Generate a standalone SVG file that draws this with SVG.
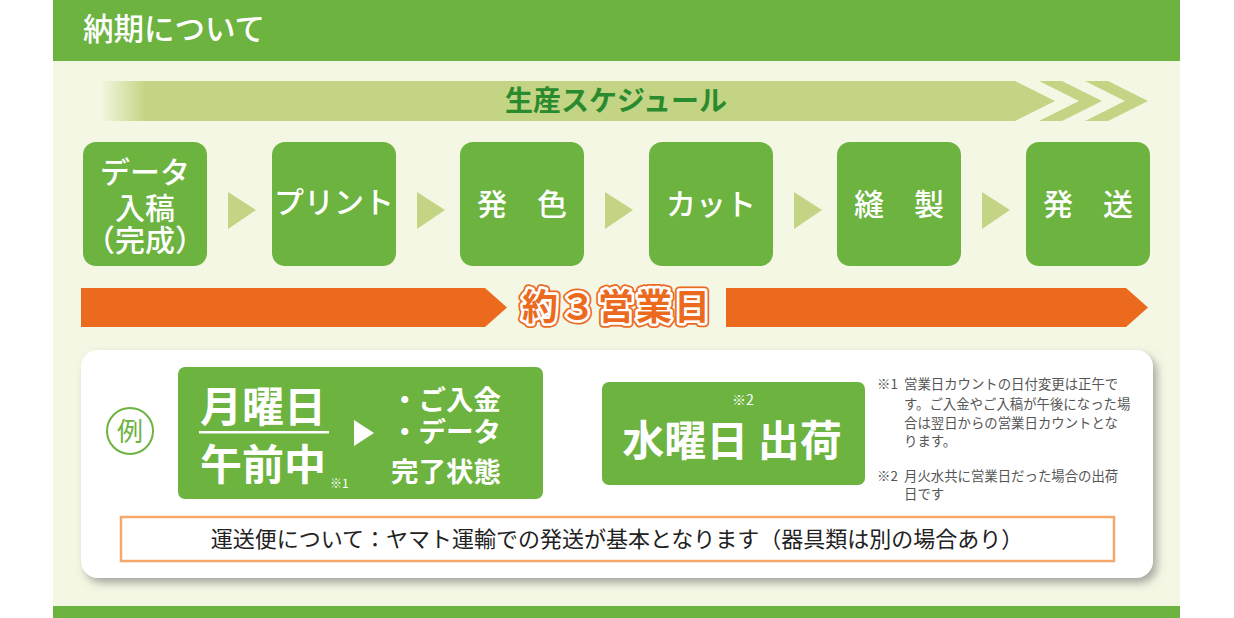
<svg xmlns="http://www.w3.org/2000/svg" width="1234" height="618" viewBox="0 0 1234 618">
<defs>
<style>
.jp{font-family:"Noto Sans CJK JP","Noto Sans",sans-serif}
.box{fill:#6cb33f}
.bt{fill:#fff;font-size:30px;text-anchor:middle;font-weight:500}
.tri{fill:#c3d584}
.note{fill:#555;font-size:13.4px}
</style>
<linearGradient id="fade" x1="100" y1="0" x2="145" y2="0" gradientUnits="userSpaceOnUse">
<stop offset="0" stop-color="#c3d584" stop-opacity="0"/>
<stop offset="1" stop-color="#c3d584"/>
</linearGradient>
<filter id="sh" x="-5%" y="-10%" width="112%" height="125%">
<feDropShadow dx="4" dy="5" stdDeviation="4" flood-color="#666" flood-opacity="0.55"/>
</filter>
</defs>
<rect x="0" y="0" width="1234" height="618" fill="#fff"/>
<rect x="53" y="61" width="1127" height="545" fill="#f4f7e3"/>
<g id="header">
<rect x="53" y="0" width="1127" height="61" fill="#6cb33f"/>
<text class="jp" x="83" y="40" font-size="30.5" font-weight="500" fill="#fff">納期について</text>
</g>
<rect x="53" y="606" width="1127" height="12" fill="#6cb33f"/>

<g id="schedule">
<path d="M100 81H1015L1055 101L1015 121H100Z" fill="url(#fade)"/>
<path d="M1039 81H1062L1102 101L1062 121H1039L1079 101Z" fill="#c3d584"/>
<path d="M1085 81H1108L1148 101L1108 121H1085L1125 101Z" fill="#c3d584"/>
<text class="jp" x="616" y="111" font-size="28" font-weight="bold" fill="#2a8a2e" text-anchor="middle">生産スケジュール</text>
</g>

<g id="step1"><rect class="box" x="83" y="142" width="124" height="124" rx="13"/>
<text class="jp bt" x="145" y="183" font-size="29">データ</text>
<text class="jp bt" x="145" y="219" font-size="29">入稿</text>
<text class="jp bt" x="145" y="251" font-size="25">（完成）</text></g>
<g id="step2"><rect class="box" x="272" y="142" width="124" height="124" rx="13"/>
<text class="jp bt" x="334" y="213">プリント</text></g>
<g id="step3"><rect class="box" x="460" y="142" width="124" height="124" rx="13"/>
<text class="jp bt" x="522" y="215">発　色</text></g>
<g id="step4"><rect class="box" x="649" y="142" width="124" height="124" rx="13"/>
<text class="jp bt" x="711" y="215">カット</text></g>
<g id="step5"><rect class="box" x="837" y="142" width="124" height="124" rx="13"/>
<text class="jp bt" x="899" y="215">縫　製</text></g>
<g id="step6"><rect class="box" x="1026" y="142" width="124" height="124" rx="13"/>
<text class="jp bt" x="1088" y="215">発　送</text></g>

<g id="connectors">
<path class="tri" d="M228 192L256 210L228 229Z"/>
<path class="tri" d="M417 192L445 210L417 229Z"/>
<path class="tri" d="M605 192L633 210L605 229Z"/>
<path class="tri" d="M794 192L822 210L794 229Z"/>
<path class="tri" d="M982 192L1010 210L982 229Z"/>
<path class="tri" d="M562 416L591 433L562 450Z"/>
</g>

<g id="days">
<path d="M81 288H485L507 307.5L485 327H81Z" fill="#ec6a1e"/>
<path d="M726 288H1126L1148 307.5L1126 327H726Z" fill="#ec6a1e"/>
<g class="jp" font-size="36" font-weight="bold" text-anchor="middle" letter-spacing="2">
<text x="617" y="320" fill="#ec6a1e" stroke="#ec6a1e" stroke-width="9" stroke-linejoin="round">約３営業日</text>
<text x="617" y="320" fill="#fff" stroke="#fff" stroke-width="5.5" stroke-linejoin="round">約３営業日</text>
<text x="617" y="320" fill="#ec6a1e">約３営業日</text>
</g>
</g>

<g id="card">
<rect x="81" y="350" width="1072" height="228" rx="17" fill="#fff" filter="url(#sh)"/>
</g>
<g id="rei">
<circle cx="130" cy="431" r="23" fill="none" stroke="#6cb33f" stroke-width="2"/>
<text class="jp" x="130" y="441" font-size="26" fill="#6cb33f" text-anchor="middle">例</text>
</g>
<g id="exampleA">
<rect class="box" x="178" y="367" width="365" height="132" rx="7"/>
<text class="jp" x="263" y="422" font-size="42" font-weight="bold" fill="#fff" text-anchor="middle">月曜日</text>
<rect x="199" y="431" width="130" height="2.5" fill="#fff"/>
<text class="jp" x="263" y="480" font-size="42" font-weight="bold" fill="#fff" text-anchor="middle">午前中</text>
<text class="jp" x="330" y="488" font-size="12" fill="#fff">※1</text>
<path d="M354 420L374 433L354 446Z" fill="#fff"/>
<g class="jp" font-size="27.5" font-weight="bold" fill="#fff">
<text x="391" y="410">・ご入金</text>
<text x="391" y="442">・データ</text>
<text x="391" y="482">完了状態</text>
</g>
</g>
<g id="exampleB">
<rect class="box" x="602" y="382" width="263" height="103" rx="7"/>
<text class="jp" x="743" y="405" font-size="14" fill="#fff" text-anchor="middle">※2</text>
<text class="jp" x="732" y="456" font-size="42" font-weight="bold" fill="#fff" text-anchor="middle">水曜日 出荷</text>
</g>
<g id="notes" class="jp note">
<text x="877" y="389">※1</text>
<text x="904" y="389">営業日カウントの日付変更は正午で</text>
<text x="904" y="409">す。ご入金やご入稿が午後になった場</text>
<text x="904" y="428">合は翌日からの営業日カウントとな</text>
<text x="904" y="446">ります。</text>
<text x="877" y="481">※2</text>
<text x="904" y="481">月火水共に営業日だった場合の出荷</text>
<text x="904" y="499">日です</text>
</g>
<g id="shipping">
<rect x="121" y="517" width="993" height="44" fill="#fff" stroke="#f5a86a" stroke-width="2.5"/>
<text class="jp" x="617" y="547" font-size="22" fill="#222" text-anchor="middle">運送便について：ヤマト運輸での発送が基本となります（器具類は別の場合あり）</text>
</g>
</svg>
